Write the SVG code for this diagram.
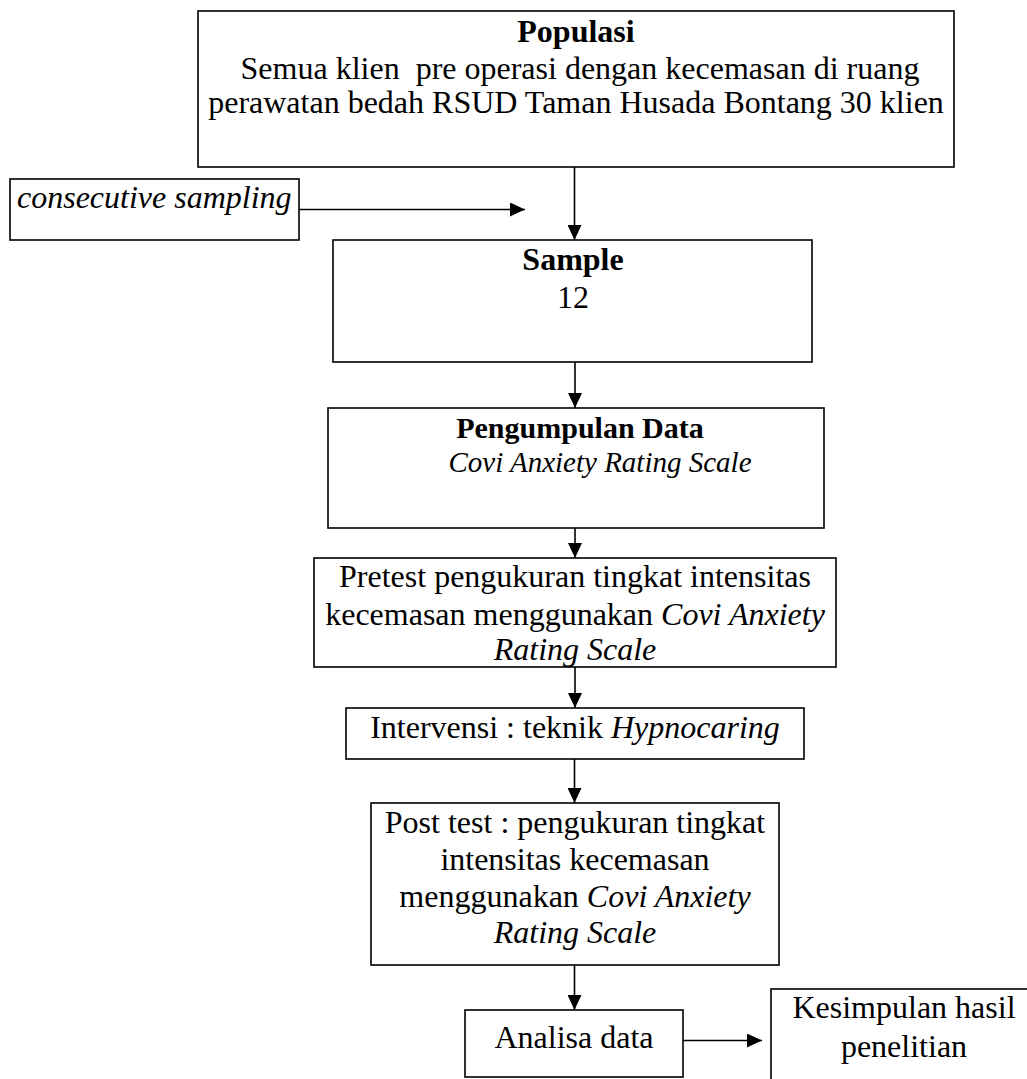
<svg xmlns="http://www.w3.org/2000/svg" width="1027" height="1079" viewBox="0 0 1027 1079">
<style>
  .box { fill: #ffffff; stroke: #000000; stroke-width: 1.6; }
  .t { font-family: "Liberation Serif", "Times New Roman", serif; fill: #000000; text-anchor: middle; }
  .s30 { font-size: 30px; }
  .s32 { font-size: 32px; }
  .b { font-weight: bold; }
  .i { font-style: italic; }
  .edge { stroke: #000000; stroke-width: 1.6; fill: none; marker-end: url(#arrow); }
</style>
<defs>
  <marker id="arrow" markerUnits="userSpaceOnUse" markerWidth="16" markerHeight="14" refX="15" refY="7" orient="auto">
    <path d="M0,0 L15,7 L0,14 Z" fill="#000000"/>
  </marker>
</defs>
<rect width="1027" height="1079" fill="#ffffff"/>

<g id="populasi">
  <rect class="box" x="198" y="11" width="756" height="156"/>
  <text class="t s32 b" x="576" y="42">Populasi</text>
  <text class="t s32" x="580" y="79" xml:space="preserve">Semua klien  pre operasi dengan kecemasan di ruang</text>
  <text class="t s32" x="576" y="113">perawatan bedah RSUD Taman Husada Bontang 30 klien</text>
</g>

<g id="consecutive">
  <rect class="box" x="10" y="179" width="289" height="61"/>
  <text class="t s32 i" x="17" y="208" style="text-anchor:start">consecutive sampling</text>
</g>

<g id="sample">
  <rect class="box" x="333" y="240" width="479" height="122"/>
  <text class="t s32 b" x="573" y="270">Sample</text>
  <text class="t s32" x="573" y="308">12</text>
</g>

<g id="pengumpulan">
  <rect class="box" x="328" y="408" width="496" height="120"/>
  <text class="t s30 b" x="580" y="438">Pengumpulan Data</text>
  <text class="t i" x="600" y="472" style="font-size:29px">Covi Anxiety Rating Scale</text>
</g>

<g id="pretest">
  <rect class="box" x="314" y="558" width="522" height="109"/>
  <text class="t s32" x="575" y="587">Pretest pengukuran tingkat intensitas</text>
  <text class="t s32" x="575" y="625">kecemasan menggunakan <tspan class="i">Covi Anxiety</tspan></text>
  <text class="t s32 i" x="575" y="660">Rating Scale</text>
</g>

<g id="intervensi">
  <rect class="box" x="346" y="708" width="458" height="51"/>
  <text class="t s32" x="575" y="738">Intervensi : teknik <tspan class="i">Hypnocaring</tspan></text>
</g>

<g id="posttest">
  <rect class="box" x="371" y="803" width="408" height="162"/>
  <text class="t s32" x="575" y="833">Post test : pengukuran tingkat</text>
  <text class="t s32" x="575" y="870">intensitas kecemasan</text>
  <text class="t s32" x="575" y="907">menggunakan <tspan class="i">Covi Anxiety</tspan></text>
  <text class="t s32 i" x="575" y="943">Rating Scale</text>
</g>

<g id="analisa">
  <rect class="box" x="465" y="1010" width="218" height="67"/>
  <text class="t s32" x="574" y="1048">Analisa data</text>
</g>

<g id="kesimpulan">
  <rect class="box" x="771" y="989" width="266" height="100"/>
  <text class="t s32" x="904" y="1018">Kesimpulan hasil</text>
  <text class="t s32" x="904" y="1057">penelitian</text>
</g>

<g id="connectors">
  <line class="edge" x1="574.5" y1="167" x2="574.5" y2="240"/>
  <line class="edge" x1="299" y1="209.5" x2="525" y2="209.5"/>
  <line class="edge" x1="575" y1="362" x2="575" y2="408"/>
  <line class="edge" x1="575" y1="528" x2="575" y2="558"/>
  <line class="edge" x1="575" y1="667" x2="575" y2="708"/>
  <line class="edge" x1="574.5" y1="759" x2="574.5" y2="803"/>
  <line class="edge" x1="574.5" y1="965" x2="574.5" y2="1010"/>
  <line class="edge" x1="683" y1="1040.5" x2="762" y2="1040.5"/>
</g>
</svg>
